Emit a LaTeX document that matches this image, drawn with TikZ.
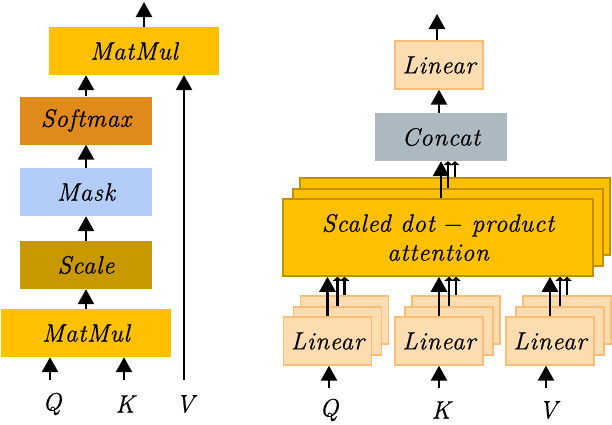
\documentclass[tikz,border=0pt]{standalone}
\usepackage{fontspec}
\usepackage{xcolor}
\usepackage{tikz}
\usetikzlibrary{arrows.meta, positioning}

\newfontfamily\boxfont{Latin Modern Roman}[LetterSpace=3, FakeBold=0.6]

\definecolor{matmulc}{HTML}{FFC000}
\definecolor{scalec}{HTML}{C89800}
\definecolor{maskc}{HTML}{B4CDF8}
\definecolor{softc}{HTML}{E08A1C}
\definecolor{concatc}{HTML}{ADB9C1}
\definecolor{linfill}{HTML}{FDDCB2}
\definecolor{linedge}{HTML}{F9BD76}
\definecolor{attedge}{HTML}{BF9000}

\begin{document}
\begin{tikzpicture}[
  x=1pt, y=-1pt,
  box/.style={minimum width=132pt, minimum height=48pt, inner sep=0pt,
    font=\boxfont\fontsize{25}{29}\selectfont\itshape},
  wide/.style={box, minimum width=170pt},
  lin/.style={box, minimum width=88pt, fill=linfill, draw=linedge, line width=1.3pt},
  att/.style={box, minimum width=310pt, minimum height=77pt, fill=matmulc,
    draw=attedge, line width=1.5pt, align=center},
  lab/.style={inner sep=0pt, font=\boxfont\fontsize{25}{29}\selectfont\itshape},
  arr/.style={-{Triangle[width=16pt,length=15pt]}, line width=2.6pt},
  arrb/.style={-{Triangle[width=9pt,length=4pt]}, line width=2.6pt}
]
\useasboundingbox (0,0) rectangle (612,424);

% scaled dot-product attention
\node[wide, fill=matmulc] (mm1) at (86,333) {MatMul};
\node[box, fill=scalec] (scale) at (86,265) {Scale};
\node[box, fill=maskc] (mask) at (86,192) {Mask};
\node[box, fill=softc] (soft) at (86,120.5) {Softmax};
\node[wide, fill=matmulc] (mm2) at (134,51) {MatMul};

\node[lab] (q1) at (52,404) {Q};
\node[lab] (k1) at (125,404) {K};
\node[lab] (v1) at (185,404) {V};
\coordinate (q1in) at (50,380);
\coordinate (k1in) at (124,380);
\coordinate (v1in) at (184,380);
\coordinate (out1) at (144,2);

\draw[arr] (q1in) -- (q1in |- mm1.south);
\draw[arr] (k1in) -- (k1in |- mm1.south);
\draw[arr] (v1in) -- (v1in |- mm2.south);
\draw[arr] (mm1) -- (scale);
\draw[arr] (scale) -- (mask);
\draw[arr] (mask) -- (soft);
\draw[arr] (soft.north) -- (soft.north |- mm2.south);
\draw[arr] (out1 |- mm2.north) -- (out1);

% multi-head attention
\node[att] (att3) at (455,216.5) {};
\node[att] (att2) at (448,227.5) {};
\node[att] (att1) at (438,237.5) {Scaled dot {\upshape−} product\\attention};

\foreach \n/\x in {q/327.5, k/439, v/550} {
  \node[lin] (lin\n3) at (\x+17,320) {};
  \node[lin] (lin\n2) at (\x+10,331) {};
  \node[lin] (lin\n1) at (\x,341) {Linear};
  \draw[arrb] (lin\n3.north) -- (lin\n3.north |- att1.south);
  \draw[arrb] (lin\n2.north) -- (lin\n2.north |- att1.south);
  \draw[arr] (lin\n1.north) -- (lin\n1.north |- att1.south);
}

\node[lab] (q2) at (329,410) {Q};
\node[lab] (k2) at (441,410) {K};
\node[lab] (v2) at (548,410) {V};
\coordinate (q2in) at (329,388);
\coordinate (k2in) at (439,388);
\coordinate (v2in) at (546,388);
\draw[arr] (q2in) -- (q2in |- linq1.south);
\draw[arr] (k2in) -- (k2in |- link1.south);
\draw[arr] (v2in) -- (v2in |- linv1.south);

\node[box, fill=concatc] (concat) at (441,137) {Concat};
\node[lin] (lout) at (439,65) {Linear};
\coordinate (out2) at (437,14);

\draw[arrb] (att3.north) -- (att3.north |- concat.south);
\draw[arrb] (att2.north) -- (att2.north |- concat.south);
\draw[arr] ([xshift=3pt]att1.north) -- ([xshift=3pt]att1.north |- concat.south);
\draw[arr] (lout.south |- concat.north) -- (lout.south);
\draw[arr] (out2 |- lout.north) -- (out2);
\end{tikzpicture}
\end{document}
